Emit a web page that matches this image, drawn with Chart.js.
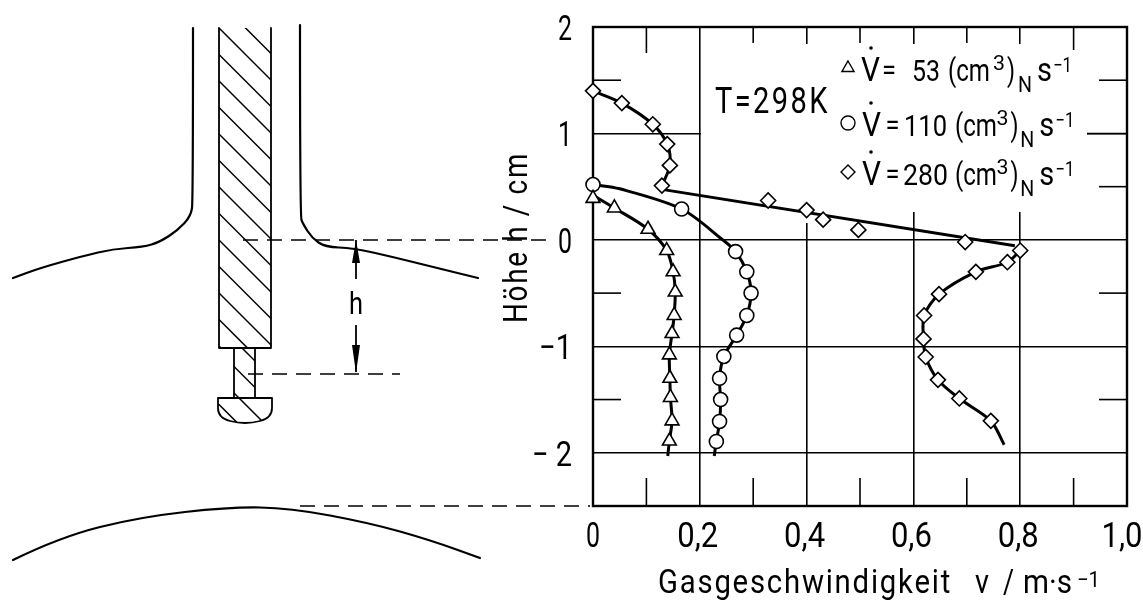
<!DOCTYPE html>
<html>
<head>
<meta charset="utf-8">
<title>Gasgeschwindigkeit</title>
<script src="https://cdn.jsdelivr.net/npm/chart.js@4"></script>
<style>
    html, body { margin: 0; padding: 0; background: #fff; }
    canvas { display: block; }
</style>
</head>
<body>
<canvas id="chart" width="1143" height="602"></canvas>
<script>
// Axis ticks
const xTickValues = [0, 0.2, 0.4, 0.6, 0.8, 1.0];
const xTickLabels = ['0', '0,2', '0,4', '0,6', '0,8', '1,0'];
const yTickValues = [2, 1, 0, -1, -2];
const yTickLabels = ['2', '1', '0', '−1', '− 2'];

// Measured points: v in m/s, h in cm
const triangleV = [0, 0.04, 0.103, 0.138, 0.15, 0.154, 0.152, 0.148, 0.143, 0.144, 0.145, 0.148, 0.143];
const triangleH = [0.39, 0.3, 0.1, -0.1, -0.3, -0.49, -0.71, -0.88, -1.08, -1.3, -1.48, -1.7, -1.89];
const circleV = [0, 0.166, 0.267, 0.288, 0.296, 0.288, 0.269, 0.245, 0.237, 0.239, 0.237, 0.231];
const circleH = [0.52, 0.29, -0.11, -0.3, -0.5, -0.71, -0.895, -1.095, -1.3, -1.5, -1.706, -1.894];
const diamondV = [0, 0.054, 0.112, 0.139, 0.144, 0.129, 0.328, 0.4, 0.431, 0.497, 0.697, 0.8, 0.776, 0.717, 0.648, 0.62, 0.619, 0.623, 0.646, 0.686, 0.745];
const diamondH = [1.4, 1.285, 1.086, 0.9, 0.7, 0.51, 0.37, 0.28, 0.19, 0.094, -0.02, -0.1, -0.21, -0.3, -0.51, -0.71, -0.93, -1.1, -1.315, -1.49, -1.7];

// Hand drawn curves through the points
const triangleCurveV = [0, 0.04, 0.103, 0.138, 0.15, 0.154, 0.152, 0.148, 0.143, 0.144, 0.145, 0.148, 0.143, 0.14];
const triangleCurveH = [0.42, 0.3, 0.1, -0.1, -0.3, -0.49, -0.71, -0.88, -1.08, -1.3, -1.48, -1.7, -1.89, -2.03];
const circleCurveV = [0, 0.05, 0.166, 0.243, 0.267, 0.288, 0.296, 0.288, 0.269, 0.245, 0.237, 0.239, 0.237, 0.231, 0.227];
const circleCurveH = [0.52, 0.48, 0.29, 0, -0.11, -0.3, -0.5, -0.71, -0.895, -1.095, -1.3, -1.5, -1.706, -1.894, -2.03];
const diamondUpperV = [0, 0.054, 0.112, 0.139, 0.144, 0.129];
const diamondUpperH = [1.4, 1.285, 1.086, 0.9, 0.7, 0.51];
const diamondMiddleV = [0.135, 0.79];
const diamondMiddleH = [0.47, -0.056];
const diamondLowerV = [0.8, 0.776, 0.717, 0.648, 0.62, 0.619, 0.623, 0.646, 0.686, 0.745, 0.77];
const diamondLowerH = [-0.1, -0.21, -0.3, -0.51, -0.71, -0.93, -1.1, -1.315, -1.49, -1.7, -1.925];

// Short inner tick marks
const bottomMinorTicks = [0.1, 0.3, 0.5, 0.7, 0.9];
const topMinorTicks = [0.1, 0.3, 0.5, 0.7, 0.9];
const leftMinorTicks = [1.5, -0.5, -1.5];
const rightMinorTicks = [1.5, 1, 0.5, -0.5, -1.5];

const labelFont = 'Roboto, "Liberation Sans", sans-serif';

function toPoints(xs, ys) {
    return xs.map((x, i) => ({ x: x, y: ys[i] }));
}

function markerDataset(label, xs, ys, style, radius) {
    return {
        label: label,
        data: toPoints(xs, ys),
        showLine: false,
        pointStyle: style,
        pointRadius: radius,
        pointBackgroundColor: '#fff',
        pointBorderColor: '#000',
        pointBorderWidth: 1.6,
        clip: false,
        order: 1
    };
}

function curveDataset(label, xs, ys, tension) {
    return {
        label: label,
        data: toPoints(xs, ys),
        showLine: true,
        tension: tension,
        borderColor: '#000',
        borderWidth: 3,
        pointRadius: 0,
        clip: false,
        order: 2
    };
}

// No narrow face is installed, so text is squeezed sideways, to a given width if there is one
function text(ctx, str, x, y, size, width, spacing) {
    ctx.save();
    ctx.font = size + 'px ' + labelFont;
    ctx.letterSpacing = (spacing || 0) + 'px';
    const sx = width ? width / ctx.measureText(str).width : 0.74;
    ctx.translate(x, y);
    ctx.scale(sx, 1);
    ctx.fillText(str, 0, 0);
    ctx.restore();
}

// Polyline smoothed through its midpoints
function smoothLine(ctx, pts) {
    ctx.beginPath();
    ctx.moveTo(pts[0][0], pts[0][1]);
    for (let i = 1; i < pts.length - 1; i++) {
        const mx = (pts[i][0] + pts[i + 1][0]) / 2;
        const my = (pts[i][1] + pts[i + 1][1]) / 2;
        ctx.quadraticCurveTo(pts[i][0], pts[i][1], mx, my);
    }
    const last = pts[pts.length - 1];
    ctx.lineTo(last[0], last[1]);
    ctx.stroke();
}

function line(ctx, x1, y1, x2, y2) {
    ctx.beginPath();
    ctx.moveTo(x1, y1);
    ctx.lineTo(x2, y2);
    ctx.stroke();
}

// Diagonal hatching clipped to the path made by buildPath
function hatch(ctx, buildPath, xLeft, yFrom, yTo, step) {
    ctx.save();
    buildPath();
    ctx.clip();
    ctx.lineWidth = 1.5;
    for (let y = yFrom; y < yTo; y += step) {
        line(ctx, xLeft, y, xLeft + 120, y + 120);
    }
    ctx.restore();
}

// Probe and nozzle sketch on the left
function drawSketch(ctx) {
    ctx.save();
    ctx.strokeStyle = '#000';
    ctx.fillStyle = '#000';
    ctx.lineCap = 'round';
    ctx.lineJoin = 'round';

    // Liquid surface with the tube
    ctx.lineWidth = 2.2;
    smoothLine(ctx, [[193, 28], [193, 200], [191, 216], [178, 230], [160, 242], [143, 247], [113, 249], [83, 256], [40, 268], [13, 278]]);
    smoothLine(ctx, [[300, 25], [300, 216], [303, 224], [312, 238], [325, 247], [353, 248], [393, 257], [433, 267], [478, 278]]);

    // Lower surface
    smoothLine(ctx, [[13, 560], [60, 537], [140, 517], [230, 507], [290, 508], [370, 523], [430, 540], [480, 558]]);

    // Rod, open at the top
    ctx.lineWidth = 1.8;
    hatch(ctx, () => { ctx.beginPath(); ctx.rect(219, 28, 52, 320); }, 219, -25, 348, 26.5);
    ctx.beginPath();
    ctx.moveTo(219, 28);
    ctx.lineTo(219, 348);
    ctx.lineTo(271, 348);
    ctx.lineTo(271, 28);
    ctx.stroke();

    // Thin shaft
    hatch(ctx, () => { ctx.beginPath(); ctx.rect(234, 348, 21, 50); }, 219, 325, 398, 26.5);
    ctx.strokeRect(234, 348, 21, 50);

    // Head
    const headPath = () => {
        ctx.beginPath();
        ctx.moveTo(218, 398);
        ctx.lineTo(272, 398);
        ctx.lineTo(272, 408);
        ctx.quadraticCurveTo(272, 418, 260, 421);
        ctx.quadraticCurveTo(245, 425, 230, 421);
        ctx.quadraticCurveTo(218, 418, 218, 408);
        ctx.closePath();
    };
    hatch(ctx, headPath, 219, 378, 425, 26.5);
    headPath();
    ctx.stroke();

    // Dashed reference lines
    ctx.lineWidth = 1.6;
    ctx.lineCap = 'butt';
    ctx.setLineDash([15, 9]);
    line(ctx, 243, 240, 546, 240);
    line(ctx, 248, 374, 400, 374);
    line(ctx, 300, 506, 590, 506);
    ctx.setLineDash([]);

    // Height arrows
    ctx.lineWidth = 1.8;
    line(ctx, 356, 240, 356, 279);
    line(ctx, 356, 325, 356, 372);
    ctx.beginPath();
    ctx.moveTo(356, 240);
    ctx.lineTo(352, 263);
    ctx.lineTo(360, 263);
    ctx.closePath();
    ctx.moveTo(356, 373);
    ctx.lineTo(352, 345);
    ctx.lineTo(360, 345);
    ctx.closePath();
    ctx.fill();
    text(ctx, 'h', 349, 314, 32, 14);
    ctx.restore();
}

// One legend row: marker, V dot, flow value, unit with sub and superscripts
function legendRow(ctx, style, radius, baseline, flow, flowX, flowWidth, shift) {
    ctx.save();
    ctx.fillStyle = '#fff';
    ctx.strokeStyle = '#000';
    ctx.lineWidth = 1.4;
    Chart.helpers.drawPoint(ctx, { pointStyle: style, radius: radius, rotation: 0, borderWidth: 1.4 }, 848, baseline - 13);
    ctx.restore();
    text(ctx, 'V', 861 + (shift ? 1 : 0), baseline, 34, 19);
    ctx.beginPath();
    ctx.arc(871, baseline - 33, 1.8, 0, Math.PI * 2);
    ctx.fill();
    text(ctx, '=', 882 + shift / 2, baseline - 1, 30, 14);
    text(ctx, flow, flowX, baseline, 30, flowWidth);
    text(ctx, '(cm', 948 + shift, baseline, 32, 42);
    text(ctx, '3', 993 + shift / 2, baseline - 11, 21, 12);
    text(ctx, ')', 1007 + shift / 2, baseline, 32, 8);
    text(ctx, 'N', 1018 + shift / 3, baseline + 11, 22, 14);
    text(ctx, 's', 1037 + shift / 3, baseline, 34, 15);
    text(ctx, '−1', 1053 + shift / 3, baseline - 9, 21, 19);
}

const chartPlugin = {
    id: 'chartExtras',
    beforeDatasetsDraw(chart) {
        const ctx = chart.ctx;
        const x = chart.scales.x;
        const y = chart.scales.y;
        const area = chart.chartArea;
        ctx.save();
        // The grid is left out behind the legend
        ctx.fillStyle = '#fff';
        ctx.fillRect(701, 44, 386, 168);
        ctx.fillRect(800, 212, 12, 11);

        ctx.strokeStyle = '#000';
        ctx.lineWidth = 1.6;
        topMinorTicks.forEach((v, i) => {
            const px = x.getPixelForValue(v);
            line(ctx, px, area.top, px, area.top + (i === 0 ? 26 : i === 4 ? 23 : 16));
        });
        bottomMinorTicks.forEach(v => {
            const px = x.getPixelForValue(v);
            line(ctx, px, area.bottom, px, area.bottom - 28);
        });
        leftMinorTicks.forEach(v => {
            const py = y.getPixelForValue(v);
            line(ctx, area.left, py, area.left + 28, py);
        });
        rightMinorTicks.forEach(v => {
            const py = y.getPixelForValue(v);
            line(ctx, area.right, py, area.right - (v === 1 ? 40 : 28), py);
        });
        ctx.lineWidth = 2.4;
        ctx.strokeRect(area.left, area.top, area.right - area.left, area.bottom - area.top);
        ctx.restore();
    },
    afterDatasetsDraw(chart) {
        const ctx = chart.ctx;
        const x = chart.scales.x;
        const y = chart.scales.y;
        ctx.save();
        ctx.fillStyle = '#000';
        ctx.strokeStyle = '#000';
        ctx.textBaseline = 'alphabetic';
        ctx.textAlign = 'left';

        drawSketch(ctx);

        // Tick labels, taken from the scales
        ctx.textAlign = 'center';
        x.ticks.forEach((tick, i) => {
            const single = tick.label.length === 1;
            // the last label is pulled in so it stays on the page
            const px = Math.min(x.getPixelForTick(i) - (single ? 0 : 2), 1122);
            text(ctx, tick.label, px, 547, 35, single ? 14 : 41);
        });
        ctx.textAlign = 'right';
        y.ticks.forEach((tick, i) => {
            const width = tick.label.length === 1 ? 14 : tick.label.length === 2 ? 33 : 40;
            text(ctx, tick.label, 572, y.getPixelForTick(i) + 13, 35, width);
        });
        ctx.textAlign = 'left';

        text(ctx, 'T=298K', 715, 113, 36, 115, 3);
        legendRow(ctx, 'triangle', 7, 81, '53', 912, 28, 0);
        legendRow(ctx, 'circle', 7, 136, '110', 904, 43, 7);
        legendRow(ctx, 'rectRot', 7, 185, '280', 903, 45, 7);

        // Axis titles
        text(ctx, 'Gasgeschwindigkeit', 658, 593, 33, 294, 2);
        text(ctx, 'v', 975, 593, 33, 14);
        text(ctx, '/', 1003, 593, 33, 11);
        text(ctx, 'm·s', 1023, 593, 33, 49);
        text(ctx, '−1', 1077, 587, 22, 23);

        ctx.translate(527, 323);
        ctx.rotate(-Math.PI / 2);
        text(ctx, 'Höhe h / cm', 0, 0, 33, 171, 2);
        ctx.restore();
    }
};

new Chart(document.getElementById('chart').getContext('2d'), {
    type: 'scatter',
    data: {
        datasets: [
            markerDataset('53 (cm3)N/s', triangleV, triangleH, 'triangle', 8),
            markerDataset('110 (cm3)N/s', circleV, circleH, 'circle', 7),
            markerDataset('280 (cm3)N/s', diamondV, diamondH, 'rectRot', 7.5),
            curveDataset('53 curve', triangleCurveV, triangleCurveH, 0.3),
            curveDataset('110 curve', circleCurveV, circleCurveH, 0.3),
            curveDataset('280 upper', diamondUpperV, diamondUpperH, 0.3),
            curveDataset('280 middle', diamondMiddleV, diamondMiddleH, 0),
            curveDataset('280 lower', diamondLowerV, diamondLowerH, 0.3)
        ]
    },
    options: {
        responsive: false,
        animation: false,
        layout: { padding: { top: 27, right: 16, left: 0, bottom: 0 } },
        plugins: { legend: { display: false }, tooltip: { enabled: false } },
        scales: {
            x: {
                type: 'linear',
                min: 0,
                max: 1,
                afterBuildTicks: axis => { axis.ticks = xTickValues.map(v => ({ value: v })); },
                afterFit: axis => { axis.height = 96; axis.paddingLeft = 0; axis.paddingRight = 0; },
                ticks: {
                    display: false,
                    autoSkip: false,
                    maxRotation: 0,
                    callback: (value, index) => xTickLabels[index]
                },
                grid: { color: '#000', lineWidth: 1.6, drawTicks: false },
                border: { display: false }
            },
            y: {
                type: 'linear',
                min: -2.5,
                max: 2,
                afterBuildTicks: axis => { axis.ticks = yTickValues.map(v => ({ value: v })); },
                afterFit: axis => { axis.width = 593; axis.paddingTop = 0; axis.paddingBottom = 0; },
                ticks: {
                    display: false,
                    autoSkip: false,
                    callback: (value, index) => yTickLabels[index]
                },
                grid: { color: '#000', lineWidth: 1.6, drawTicks: false },
                border: { display: false }
            }
        }
    },
    plugins: [chartPlugin]
});
</script>
</body>
</html>
